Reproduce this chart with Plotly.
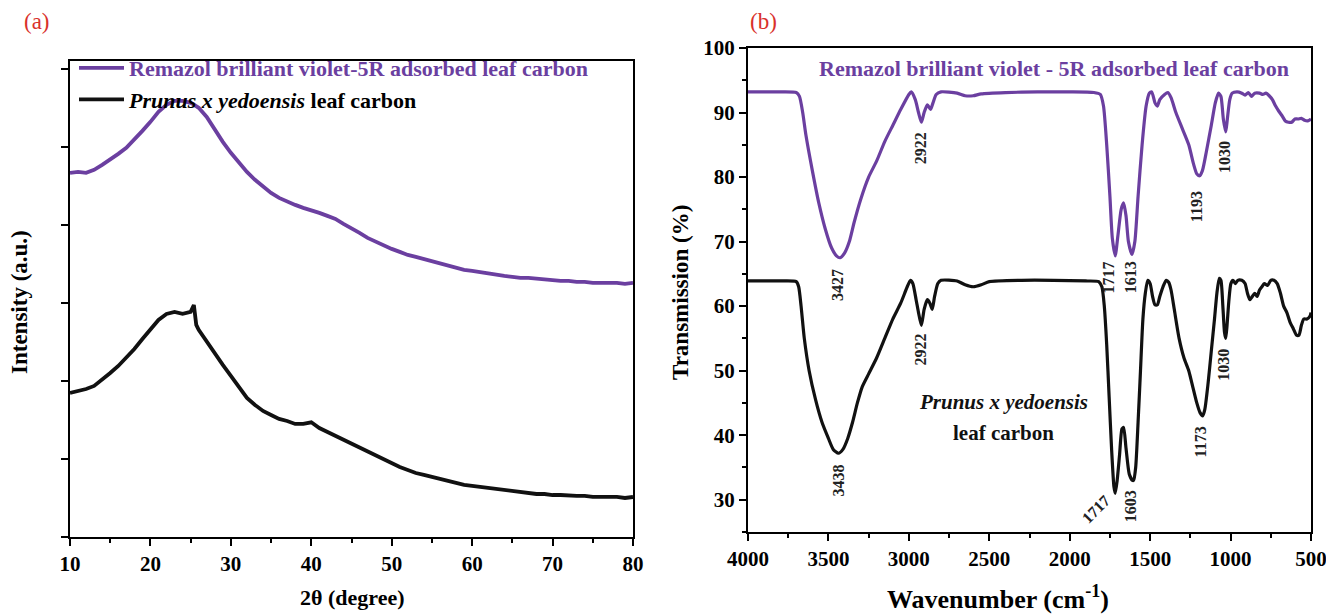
import plotly.graph_objects as go

# ---------------- data: (a) XRD ----------------
xrd_theta = list(range(10, 26)) + [25.4, 25.7] + list(range(26, 81))
xrd_dye = [4667, 4679, 4667, 4705, 4769, 4833, 4910, 4987, 5090, 5205, 5320, 5449, 5538, 5590, 5590, 5564,
           5540, 5520,
           5500, 5384, 5218, 5064, 4923, 4795, 4679, 4577, 4487, 4410, 4346, 4295, 4256, 4218, 4190, 4154,
           4115, 4077, 4013, 3961, 3897, 3833, 3782, 3731, 3692, 3654, 3615, 3590, 3564, 3526, 3500, 3474,
           3449, 3423, 3410, 3397, 3372, 3359, 3346, 3333, 3320, 3320, 3308, 3295, 3295, 3282, 3282, 3269,
           3269, 3256, 3256, 3256, 3256, 3243, 3256]
xrd_leaf = [1846, 1872, 1897, 1936, 2013, 2102, 2192, 2295, 2410, 2538, 2667, 2782, 2859, 2885, 2859, 2885,
            2974, 2718,
            2654, 2500, 2359, 2205, 2064, 1923, 1782, 1692, 1615, 1564, 1513, 1487, 1449, 1449, 1470, 1397,
            1346, 1295, 1244, 1192, 1141, 1090, 1038, 987, 949, 897, 859, 820, 795, 769, 744, 718,
            692, 667, 654, 641, 628, 615, 603, 590, 577, 564, 551, 551, 538, 538, 526, 526,
            526, 513, 513, 513, 513, 500, 513]

# ---------------- data: (b) FTIR ----------------
ftir_wn_dye = [4000, 3900, 3800, 3700, 3680, 3660, 3640, 3600, 3560, 3520, 3480, 3450, 3427, 3400, 3370, 3340,
               3300, 3250, 3200, 3150, 3100, 3050, 3000, 2985, 2960, 2940, 2922, 2905, 2885, 2865, 2850, 2830,
               2800, 2700, 2650, 2600, 2550, 2400, 2200, 2000, 1850, 1810, 1790, 1770, 1750, 1735, 1717, 1700,
               1680, 1665, 1650, 1635, 1613, 1595, 1575, 1550, 1525, 1505, 1490, 1470, 1455, 1440, 1410, 1390,
               1370, 1340, 1300, 1260, 1230, 1210, 1193, 1175, 1150, 1120, 1095, 1075, 1060, 1045, 1030, 1020,
               1005, 990, 960, 930, 910, 890, 870, 850, 820, 800, 780, 760, 740, 720, 700, 680,
               660, 640, 620, 600, 580, 560, 540, 520, 500]
ftir_dye = [93.2, 93.2, 93.2, 93.1, 92.5, 90, 86.5, 81, 76, 72, 69, 67.8, 67.5, 68.2, 70, 73,
            76.5, 80, 82.5, 85.5, 88, 90.5, 92.8, 93.2, 92, 90, 88.5, 90, 91.2, 90.5, 91.5, 92.8,
            93.2, 93, 92.6, 92.6, 92.9, 93.1, 93.2, 93.2, 93.1, 92.8, 91, 85, 77, 70.5, 67.8, 71,
            75, 76, 74, 70, 68, 70, 77, 85, 91, 93, 93.2, 91.5, 91, 92, 92.8, 93.1,
            92.3, 90, 87.5, 85, 82, 80.5, 80.2, 81, 84, 88, 91.5, 93, 92.5, 89, 87, 89,
            92, 93, 93.2, 93, 92.7, 93.1, 92.5, 93, 93, 92.8, 93, 92.6, 92, 91, 90.2, 89.5,
            88.7, 88.5, 88.5, 89, 89, 89.1, 88.8, 88.7, 89]

ftir_wn_leaf = [4000, 3900, 3800, 3700, 3685, 3670, 3650, 3620, 3580, 3540, 3500, 3470, 3438, 3410, 3380, 3350,
                3320, 3290, 3250, 3200, 3150, 3100, 3050, 3010, 2990, 2975, 2955, 2940, 2922, 2905, 2885, 2870,
                2855, 2840, 2820, 2800, 2700, 2650, 2600, 2550, 2500, 2300, 2100, 1900, 1820, 1800, 1785, 1770,
                1755, 1740, 1725, 1717, 1705, 1690, 1675, 1665, 1650, 1630, 1610, 1603, 1590, 1575, 1560, 1545,
                1530, 1515, 1500, 1485, 1470, 1455, 1440, 1420, 1400, 1385, 1370, 1350, 1320, 1290, 1260, 1235,
                1210, 1190, 1173, 1160, 1140, 1120, 1100, 1085, 1070, 1060, 1048, 1038, 1030, 1022, 1010, 998,
                985, 970, 955, 930, 910, 895, 880, 865, 850, 835, 820, 805, 790, 770, 750, 730,
                710, 690, 670, 650, 630, 610, 590, 575, 560, 545, 525, 505, 500]
ftir_leaf = [63.9, 63.9, 63.9, 63.8, 63, 60, 55, 50, 45.5, 42, 39.5, 37.8, 37.2, 37.8, 39.5, 42,
             45, 47.5, 49.5, 52, 55, 58, 60.5, 63, 64, 63.5, 61, 59, 57, 59.5, 61, 60.5,
             59.5, 61.5, 63.5, 64, 63.9, 63.3, 63, 63.3, 63.8, 64, 64, 63.9, 63.8, 63, 60, 54,
             46, 38, 32, 31, 33, 37, 41, 41.2, 38, 34, 33, 33, 35, 42, 50, 58,
             62, 64, 63.5, 61.5, 60.2, 60.2, 61.5, 63, 64, 63.7, 62.5, 59.5, 55, 52, 50, 47.5,
             45, 43.5, 43, 44, 48, 53, 58, 62, 64.3, 64, 60, 56, 55, 57, 61, 63.5,
             64, 63.5, 64, 64, 63.5, 62, 61, 61.5, 62, 61.5, 62.5, 63, 63.5, 63.2, 64, 64,
             63.5, 62, 60, 59, 57.5, 56.5, 55.5, 55.5, 57, 58, 58, 58.5, 59]

# peak labels
peak_text = ["3427", "2922", "1717", "1613", "1193", "1030",
             "3438", "2922", "1717", "1603", "1173", "1030"]
peak_x = [3440, 2930, 1758, 1622, 1212, 1042,
          3440, 2930, 1839, 1622, 1185, 1042]
peak_y = [63.3, 84.5, 64.4, 64.4, 75.4, 83.1,
          33.0, 53.3, 28.5, 28.9, 39.0, 50.9]
peak_angle = [-90, -90, -90, -90, -90, -90, -90, -90, -45, -90, -90, -90]

PURPLE = "#6b3fa0"
BLACK = "#111111"
RED = "#d9312b"
FONT = "Liberation Serif"

W, H = 1326, 615


def px_x(p):
    return p / W


def px_y(p):
    return 1 - p / H


fig = go.Figure()

fig.add_trace(go.Scatter(x=xrd_theta, y=xrd_dye, mode="lines", xaxis="x", yaxis="y",
                         line=dict(color=PURPLE, width=3.8),
                         name=f"<b><span style='color:{PURPLE}'>Remazol brilliant violet-5R adsorbed leaf carbon</span></b>"))
fig.add_trace(go.Scatter(x=xrd_theta, y=xrd_leaf, mode="lines", xaxis="x", yaxis="y",
                         line=dict(color=BLACK, width=3.8),
                         name="<b><i>Prunus x yedoensis</i> leaf carbon</b>"))

fig.add_trace(go.Scatter(x=ftir_wn_dye, y=ftir_dye, mode="lines", xaxis="x2", yaxis="y2",
                         line=dict(color=PURPLE, width=3.2, shape="spline", smoothing=0.6),
                         showlegend=False))
fig.add_trace(go.Scatter(x=ftir_wn_leaf, y=ftir_leaf, mode="lines", xaxis="x2", yaxis="y2",
                         line=dict(color=BLACK, width=3.2, shape="spline", smoothing=0.6),
                         showlegend=False))

tickfont = dict(family=FONT, size=21, color="black", weight="bold")
axis_common = dict(showline=True, linecolor="black", linewidth=2, mirror=True,
                   ticks="outside", ticklen=7, tickwidth=2, tickcolor="black",
                   showgrid=False, zeroline=False, tickfont=tickfont, automargin=False,
                   ticklabeloverflow="allow")


def ann(text, x, y, size, color="black", angle=0, ref="paper"):
    if ref == "paper":
        xr, yr, xv, yv = "paper", "paper", px_x(x), px_y(y)
    else:
        xr, yr, xv, yv = "x2", "y2", x, y
    return dict(text=text, x=xv, y=yv, xref=xr, yref=yr, xanchor="center", yanchor="middle",
                textangle=angle, showarrow=False, font=dict(family=FONT, size=size, color=color))


annotations = [
    ann("(a)", 37, 21, 23, RED),
    ann("(b)", 764, 21, 23, RED),
    ann("<b>Intensity (a.u.)</b>", 20, 302, 23, angle=-90),
    ann("<b>2θ (degree)</b>", 352, 597, 22),
    ann("<b>Transmission (%)</b>", 680, 292, 23, angle=-90),
    ann("<b>Wavenumber (cm<sup>-1</sup>)</b>", 998, 597, 26),
    ann("<b>Remazol brilliant violet - 5R adsorbed leaf carbon</b>", 1054, 68, 22, PURPLE),
    ann("<b><i>Prunus x yedoensis</i></b>", 2412, 45.2, 21, BLACK, ref="data"),
    ann("<b>leaf carbon</b>", 2412, 40.4, 21, BLACK, ref="data"),
]
for t, xv, yv, ang in zip(peak_text, peak_x, peak_y, peak_angle):
    annotations.append(ann(f"<b>{t}</b>", xv, yv, 16, "#222222", angle=ang, ref="data"))

fig.update_layout(
    width=W, height=H,
    margin=dict(l=0, r=0, t=0, b=0, autoexpand=False),
    paper_bgcolor="white", plot_bgcolor="white",
    xaxis=dict(domain=[px_x(70), px_x(633)], range=[10, 80], dtick=10, tick0=10,
               minor=dict(dtick=5, ticks="outside", ticklen=4, tickwidth=2, tickcolor="black"),
               anchor="y", **axis_common),
    yaxis=dict(domain=[px_y(537), px_y(61)], range=[0, 6100], dtick=1000, tick0=0,
               showticklabels=False, anchor="x", **axis_common),
    xaxis2=dict(domain=[px_x(748), px_x(1311)], range=[4000, 500], dtick=500, tick0=500,
                minor=dict(dtick=250, ticks="outside", ticklen=4, tickwidth=2, tickcolor="black"),
                anchor="y2", **axis_common),
    yaxis2=dict(domain=[px_y(532), px_y(48)], range=[25, 100], dtick=10, tick0=30,
                minor=dict(dtick=5, ticks="outside", ticklen=4, tickwidth=2, tickcolor="black"),
                anchor="x2", **axis_common),
    legend=dict(x=px_x(74), y=px_y(47), xanchor="left", yanchor="top", bgcolor="rgba(0,0,0,0)",
                font=dict(family=FONT, size=22, color="black"), itemwidth=45, tracegroupgap=0),
    annotations=annotations,
    showlegend=True,
)

# remove the default 8px page margin so the figure fills the 1326x615 window exactly
fig.write_html("out.html", config={"displayModeBar": False},
               post_script="document.body.style.margin='0';document.body.style.overflow='hidden';")
